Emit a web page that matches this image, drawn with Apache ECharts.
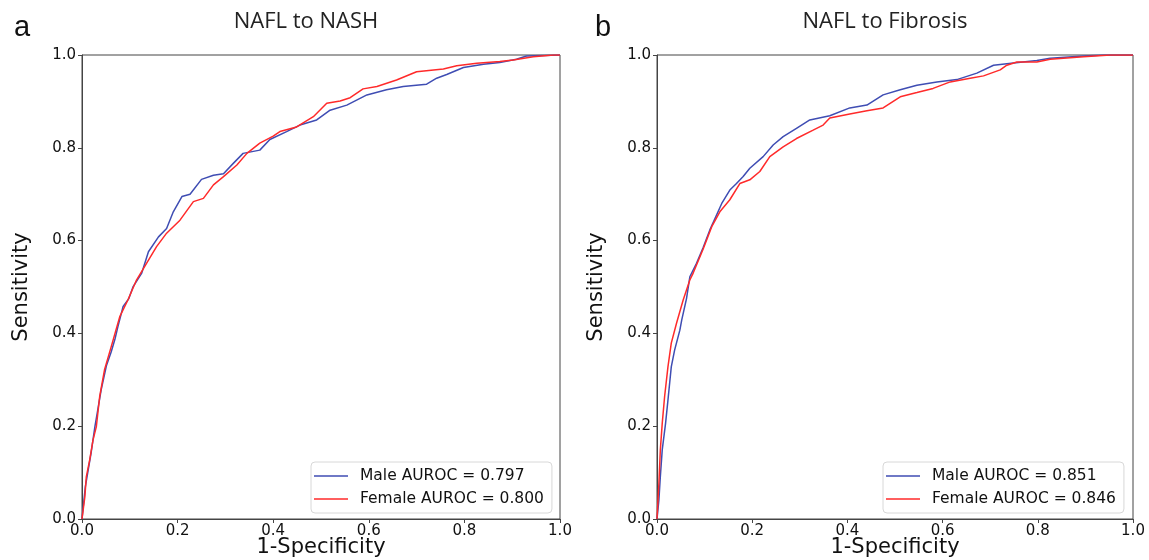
<!DOCTYPE html>
<html>
<head>
<meta charset="utf-8">
<script src="https://cdn.jsdelivr.net/npm/echarts@6/dist/echarts.min.js"></script>
<style>
  html, body { margin: 0; padding: 0; background: #fff; }
  #chart { width: 1149px; height: 560px; }
</style>
</head>
<body>
<div id="chart"></div>
<script>
// panel a: NAFL to NASH
const nashMaleFpr = [0, 0.007, 0.013, 0.019, 0.027, 0.033, 0.040, 0.051, 0.061, 0.069, 0.075, 0.086, 0.098, 0.107, 0.125, 0.139, 0.160, 0.177, 0.191, 0.209, 0.226, 0.250, 0.275, 0.296, 0.317, 0.337, 0.372, 0.393, 0.428, 0.456, 0.491, 0.519, 0.554, 0.596, 0.637, 0.672, 0.721, 0.742, 0.763, 0.798, 0.840, 0.874, 0.909, 0.930, 1];
const nashMaleTpr = [0, 0.070, 0.106, 0.142, 0.199, 0.235, 0.278, 0.330, 0.360, 0.388, 0.414, 0.458, 0.475, 0.501, 0.530, 0.576, 0.608, 0.626, 0.662, 0.695, 0.700, 0.732, 0.741, 0.744, 0.767, 0.788, 0.795, 0.818, 0.835, 0.849, 0.860, 0.881, 0.892, 0.914, 0.925, 0.932, 0.937, 0.950, 0.958, 0.973, 0.980, 0.984, 0.991, 0.998, 1];
const nashFemaleFpr = [0, 0.006, 0.009, 0.016, 0.023, 0.030, 0.037, 0.047, 0.061, 0.079, 0.096, 0.114, 0.135, 0.156, 0.177, 0.205, 0.233, 0.254, 0.275, 0.296, 0.324, 0.345, 0.372, 0.400, 0.414, 0.449, 0.484, 0.512, 0.540, 0.561, 0.588, 0.617, 0.658, 0.686, 0.700, 0.756, 0.784, 0.826, 0.874, 0.902, 0.944, 0.986, 1];
const nashFemaleTpr = [0, 0.048, 0.091, 0.127, 0.170, 0.199, 0.264, 0.321, 0.371, 0.436, 0.472, 0.515, 0.551, 0.587, 0.616, 0.644, 0.684, 0.691, 0.720, 0.738, 0.763, 0.788, 0.810, 0.825, 0.835, 0.845, 0.867, 0.896, 0.901, 0.908, 0.927, 0.932, 0.946, 0.958, 0.964, 0.970, 0.977, 0.982, 0.986, 0.989, 0.996, 1.0, 1];

// panel b: NAFL to Fibrosis
const fibMaleFpr = [0, 0.004, 0.007, 0.011, 0.018, 0.023, 0.030, 0.037, 0.048, 0.052, 0.062, 0.069, 0.083, 0.097, 0.111, 0.122, 0.136, 0.153, 0.167, 0.181, 0.195, 0.223, 0.244, 0.265, 0.293, 0.321, 0.363, 0.405, 0.441, 0.475, 0.511, 0.546, 0.588, 0.630, 0.672, 0.707, 0.749, 0.798, 0.826, 0.896, 0.940, 1];
const fibMaleTpr = [0, 0.041, 0.091, 0.149, 0.206, 0.256, 0.328, 0.364, 0.407, 0.429, 0.475, 0.522, 0.551, 0.585, 0.623, 0.648, 0.680, 0.709, 0.723, 0.738, 0.756, 0.781, 0.806, 0.824, 0.842, 0.860, 0.869, 0.886, 0.892, 0.914, 0.925, 0.935, 0.942, 0.947, 0.961, 0.978, 0.983, 0.988, 0.993, 0.998, 1.0, 1];
const fibFemaleFpr = [0, 0.004, 0.007, 0.011, 0.016, 0.023, 0.030, 0.041, 0.055, 0.069, 0.076, 0.097, 0.115, 0.132, 0.153, 0.174, 0.195, 0.216, 0.237, 0.265, 0.293, 0.328, 0.349, 0.363, 0.405, 0.441, 0.475, 0.511, 0.546, 0.580, 0.616, 0.658, 0.686, 0.721, 0.735, 0.756, 0.798, 0.826, 0.896, 0.952, 1];
const fibFemaleTpr = [0, 0.077, 0.149, 0.206, 0.264, 0.328, 0.379, 0.422, 0.472, 0.515, 0.530, 0.582, 0.630, 0.662, 0.688, 0.723, 0.731, 0.749, 0.781, 0.802, 0.820, 0.838, 0.849, 0.864, 0.873, 0.880, 0.886, 0.910, 0.919, 0.928, 0.942, 0.950, 0.955, 0.968, 0.978, 0.985, 0.985, 0.991, 0.996, 1.0, 1];

const panelTitles = ["NAFL to NASH", "NAFL to Fibrosis"];
const panelLetters = ["a", "b"];
const legendNames = [
  ["Male AUROC = 0.797", "Female AUROC = 0.800"],
  ["Male AUROC = 0.851", "Female AUROC = 0.846"]
];

const BLUE = "#3f4db3";
const RED = "#ff2a2a";
const AXIS = "#444";
const FONT = "DejaVu Sans";

const pairs = (xs, ys) => xs.map((x, i) => [x, ys[i]]);

const grids = [
  { left: 82, top: 55, width: 478, height: 464 },
  { left: 657, top: 55, width: 476, height: 464 }
];

const chart = echarts.init(document.getElementById("chart"), null, { renderer: "canvas" });

const makeAxis = (idx, isX) => ({
  type: "value",
  gridIndex: idx,
  min: 0,
  max: 1,
  interval: 0.2,
  name: isX ? "1-Specificity" : "Sensitivity",
  nameLocation: "middle",
  nameGap: isX ? 18 : 50,
  nameMoveOverlap: false,
  nameRotate: isX ? 0 : 90,
  nameTextStyle: { fontFamily: FONT, fontSize: 21, color: "#111" },
  axisLine: { show: true, lineStyle: { color: AXIS, width: 1 } },
  axisTick: { show: true, inside: false, length: 4, lineStyle: { color: AXIS } },
  axisLabel: {
    show: true,
    margin: isX ? 5 : 6,
    fontFamily: FONT,
    fontSize: 15,
    color: "#111",
    showMinLabel: true,
    showMaxLabel: true,
    hideOverlap: false,
    formatter: (v) => v.toFixed(1)
  },
  splitLine: { show: false }
});

const option = {
  animation: false,
  backgroundColor: "#fff",
  grid: grids.map((g) => ({
    ...g,
    show: true,
    borderColor: AXIS,
    borderWidth: 1,
    backgroundColor: "transparent",
    containLabel: false,
    outerBoundsMode: "none"
  })),
  xAxis: [makeAxis(0, true), makeAxis(1, true)],
  yAxis: [makeAxis(0, false), makeAxis(1, false)],
  legend: [
    { left: 311, top: 462 },
    { left: 883, top: 462 }
  ].map((pos, i) => ({
    ...pos,
    orient: "vertical",
    data: legendNames[i],
    icon: "rect",
    itemWidth: 34,
    itemHeight: 1.5,
    itemGap: 7,
    itemStyle: { borderWidth: 0 },
    textStyle: { fontFamily: FONT, fontSize: 15.5, color: "#111", padding: [0, 0, 0, 7] },
    padding: [6, 8, 6, 3],
    borderColor: "#d8d8d8",
    borderWidth: 1,
    borderRadius: 4,
    backgroundColor: "rgba(255,255,255,0.8)",
    selectedMode: false
  })),
  series: [
    { name: legendNames[0][0], data: pairs(nashMaleFpr, nashMaleTpr), color: BLUE, idx: 0 },
    { name: legendNames[0][1], data: pairs(nashFemaleFpr, nashFemaleTpr), color: RED, idx: 0 },
    { name: legendNames[1][0], data: pairs(fibMaleFpr, fibMaleTpr), color: BLUE, idx: 1 },
    { name: legendNames[1][1], data: pairs(fibFemaleFpr, fibFemaleTpr), color: RED, idx: 1 }
  ].map((s) => ({
    type: "line",
    name: s.name,
    xAxisIndex: s.idx,
    yAxisIndex: s.idx,
    data: s.data,
    color: s.color,
    showSymbol: false,
    symbol: "none",
    lineStyle: { color: s.color, width: 1.5 },
    z: 3
  })),
  graphic: [
    { x: 306, y: 11, text: panelTitles[0] },
    { x: 885, y: 11, text: panelTitles[1] }
  ].map((t) => ({
    type: "text",
    x: t.x,
    y: t.y,
    style: {
      text: t.text,
      font: '22px "Open Sans"',
      fill: "#222",
      textAlign: "center",
      textVerticalAlign: "top"
    }
  })).concat([
    { x: 14, text: panelLetters[0] },
    { x: 595, text: panelLetters[1] }
  ].map((t) => ({
    type: "text",
    x: t.x,
    y: 42,
    style: {
      text: t.text,
      font: '29px "Liberation Sans"',
      fill: "#111",
      textAlign: "left",
      textVerticalAlign: "bottom"
    }
  })))
};

chart.setOption(option);
</script>
</body>
</html>
